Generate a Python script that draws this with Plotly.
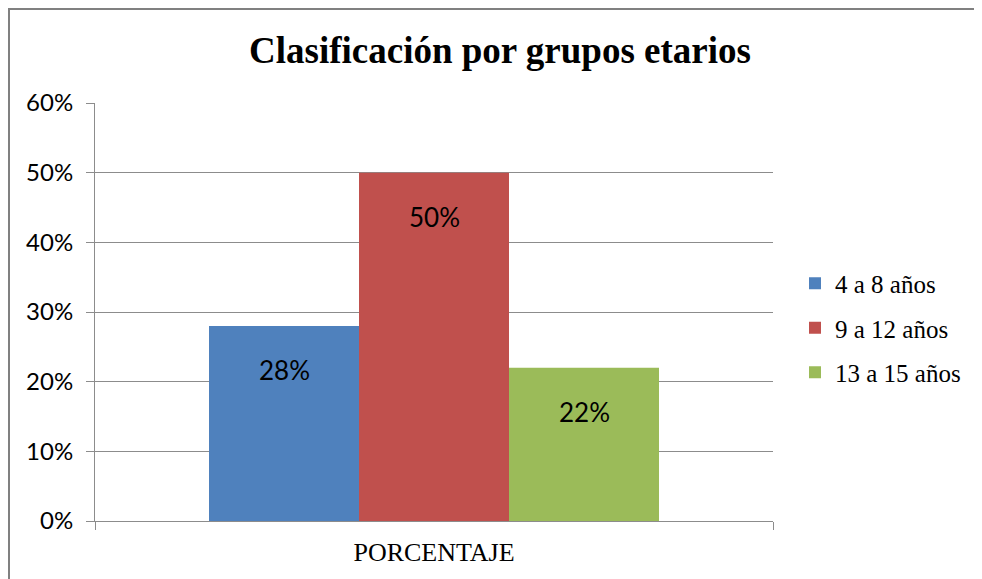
import plotly.graph_objects as go

categories = ["PORCENTAJE"]
series_names = ["4 a 8 años", "9 a 12 años", "13 a 15 años"]
series_values = [0.28, 0.50, 0.22]
series_labels = ["28%", "50%", "22%"]
colors = ["#4F81BD", "#C0504D", "#9BBB59"]
y_ticks = [0, 0.1, 0.2, 0.3, 0.4, 0.5, 0.6]
y_tick_labels = ["0%", "10%", "20%", "30%", "40%", "50%", "60%"]

W, H = 982, 579
OFF = 8  # page body margin offset
L, R, T, B = 95 - OFF, 209 + OFF, 103 - OFF, 58 + OFF
bargap = 1 - 450 / 678
barw = (1 - bargap) / len(series_names)

fig = go.Figure()
for i, (name, val, col) in enumerate(zip(series_names, series_values, colors)):
    fig.add_trace(go.Bar(
        x=categories, y=[val], name=name, marker_color=col,
        marker_line_width=0, legendgroup=name,
    ))

annotations = []
for i, (val, lab) in enumerate(zip(series_values, series_labels)):
    annotations.append(dict(
        x=(i - 1) * barw, y=val, xref="x", yref="y", text=lab,
        showarrow=False, yanchor="middle", yshift=-44,
        font=dict(family="Lato", size=26, color="#000000"),
    ))

pw, ph = W - L - R, H - T - B
fig.update_layout(
    width=W, height=H,
    margin=dict(l=L, r=R, t=T, b=B),
    paper_bgcolor="white", plot_bgcolor="white",
    barmode="group", bargap=bargap, bargroupgap=0,
    title=dict(
        text="<b>Clasificación por grupos etarios</b>",
        x=(500 - OFF) / W, xanchor="center", y=1 - (50 - OFF) / H, yanchor="middle",
        xref="container", yref="container",
        font=dict(family="Liberation Serif", size=37, color="#000000"),
    ),
    legend=dict(
        x=(795 - 95) / pw, xanchor="left", y=(521 - 328) / ph, yanchor="middle",
        font=dict(family="Liberation Serif", size=25, color="#000000"),
        tracegroupgap=9, itemwidth=30, bgcolor="rgba(0,0,0,0)",
    ),
    annotations=annotations,
    shapes=[dict(
        type="rect", xref="paper", yref="paper",
        x0=(1 - L) / pw, x1=(W + 20 - L) / pw,
        y0=-(B + 20) / ph, y1=1 + (T - 1) / ph,
        line=dict(color="#808080", width=2), fillcolor="rgba(0,0,0,0)",
        layer="below",
    )],
)
fig.update_yaxes(
    range=[0, 0.6], tickvals=y_ticks, ticktext=y_tick_labels,
    showgrid=True, gridcolor="#8C8C8C", gridwidth=1,
    showline=True, linecolor="#8C8C8C", linewidth=1,
    ticks="outside", ticklen=8, tickcolor="#8C8C8C",
    ticklabelstandoff=8,
    tickfont=dict(family="Lato", size=24, color="#000000"),
    zeroline=False,
)
fig.update_xaxes(
    showline=True, linecolor="#8C8C8C", linewidth=1,
    ticks="outside", tickson="boundaries", ticklen=8, tickcolor="#8C8C8C",
    ticklabelstandoff=8,
    tickfont=dict(family="Liberation Serif", size=26, color="#000000"),
)
fig.write_html("out.html")
